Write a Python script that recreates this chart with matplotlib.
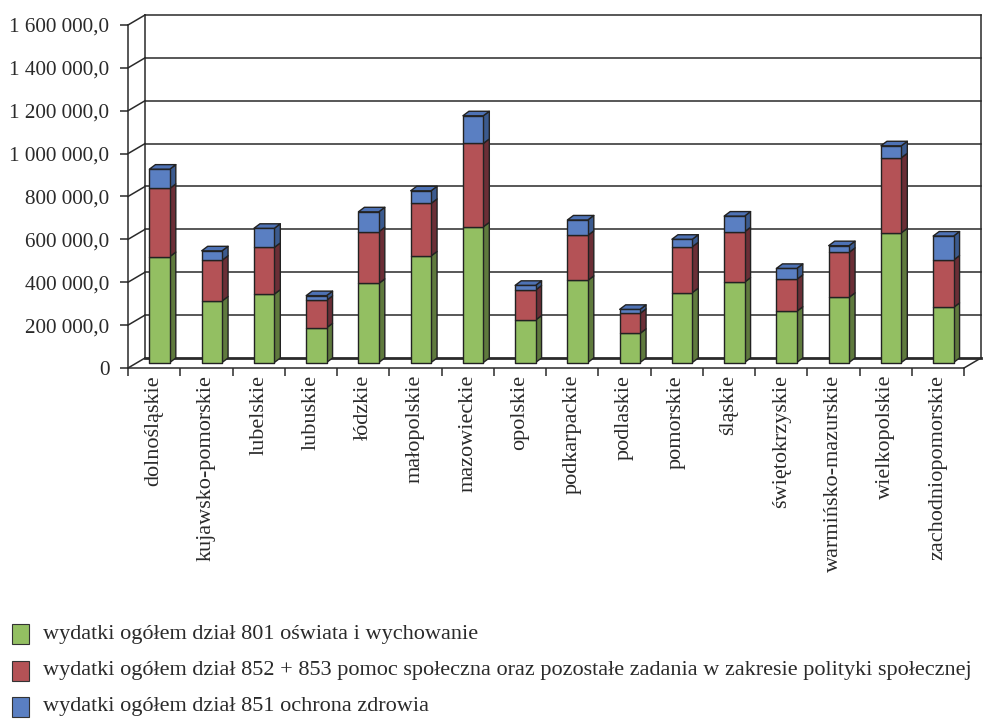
import numpy as np
import matplotlib.pyplot as plt
from matplotlib.patches import Polygon, Rectangle

plt.rcParams['font.family'] = ['Liberation Serif', 'DejaVu Serif']

regions = ["dolnośląskie", "kujawsko-pomorskie", "lubelskie", "lubuskie", "łódzkie",
           "małopolskie", "mazowieckie", "opolskie", "podkarpackie", "podlaskie",
           "pomorskie", "śląskie", "świętokrzyskie", "warmińsko-mazurskie",
           "wielkopolskie", "zachodniopomorskie"]

# thousands, per voivodeship
oswiata = [494, 287, 319, 162, 369, 497, 633, 198, 383, 136, 326, 375, 239, 304, 605, 257]
pomoc = [318, 190, 218, 128, 241, 245, 389, 140, 210, 93, 214, 235, 149, 210, 350, 221]
zdrowie = [90, 44, 89, 22, 93, 59, 129, 22, 72, 19, 35, 73, 51, 31, 56, 112]

series_labels = [
    "wydatki ogółem dział 801 oświata i wychowanie",
    "wydatki ogółem dział 852 + 853 pomoc społeczna oraz pozostałe zadania w zakresie polityki społecznej",
    "wydatki ogółem dział 851 ochrona zdrowia",
]
face_colors = ["#93BF62", "#B45256", "#5A7FC2"]
side_colors = ["#5F7A3D", "#6B2E36", "#3B5A8E"]
top_colors = ["#7FA852", "#9A4048", "#4E72B5"]

yticks = np.arange(0, 1_600_001, 200_000)
ytick_labels = ["0"] + [f"{v:,.1f}".replace(",", " ").replace(".", ",") for v in yticks[1:]]

W, H = 985, 719
fig = plt.figure(figsize=(W / 100, H / 100), dpi=100)
ax_box = [128 / W, 1 - 368 / H, (964 - 128) / W, (368 - 25) / H]
ax = fig.add_axes(ax_box)
n = len(regions)
ax.set_xlim(0, n)
ax.set_ylim(0, 1_600_000)

# data units per screen pixel
px_x = n / (ax_box[2] * W)
px_y = 1_600_000 / (ax_box[3] * H)

def shift(x, y, dx, dy):
    return x + dx * px_x, y + dy * px_y

line_kw = dict(color="#2a2a2a", lw=1.1, clip_on=False, zorder=1)

# walls: back grid, left wall diagonals, floor edges
wall_dx, wall_dy = 17, 10
for v in yticks:
    x0, y0 = shift(0, v, wall_dx, wall_dy)
    x1, _ = shift(n, v, wall_dx, wall_dy)
    ax.plot([x0, x1], [y0, y0], **(line_kw | dict(lw=2.0 if v == 0 else 1.1)))
    ax.plot([0, x0], [v, y0], **line_kw)
bx, by0 = shift(0, 0, wall_dx, wall_dy)
_, by1 = shift(0, 1_600_000, wall_dx, wall_dy)
ax.plot([bx, bx], [by0, by1], **line_kw)
ax.plot([bx + n, bx + n], [by0, by1], **line_kw)
ax.plot([n, bx + n], [0, by0], **line_kw)

# stacked 3d columns
bar_w = 0.39
bar_off = (5.5, 5.5)
depth = (6, 4.5)
ddx, ddy = depth[0] * px_x, depth[1] * px_y
stacks = [oswiata, pomoc, zdrowie]
for i in range(n):
    bottom = 0
    for j, vals in enumerate(stacks):
        top = bottom + vals[i] * 1000
        x0, y0 = shift(i + 0.5 - bar_w / 2, bottom, *bar_off)
        x1, y1 = shift(i + 0.5 + bar_w / 2, top, *bar_off)
        poly_kw = dict(edgecolor="#222222", lw=1.0, clip_on=False, zorder=3, joinstyle="round")
        ax.add_patch(Polygon([(x1, y0), (x1 + ddx, y0 + ddy), (x1 + ddx, y1 + ddy), (x1, y1)],
                             facecolor=side_colors[j], **poly_kw))
        ax.add_patch(Polygon([(x0, y0), (x1, y0), (x1, y1), (x0, y1)],
                             facecolor=face_colors[j], **poly_kw))
        if j == len(stacks) - 1:
            ax.add_patch(Polygon([(x0, y1), (x1, y1), (x1 + ddx, y1 + ddy), (x0 + ddx, y1 + ddy)],
                                 facecolor=top_colors[j], **poly_kw))
        bottom = top

for side in ["top", "right"]:
    ax.spines[side].set_visible(False)
for side in ["left", "bottom"]:
    ax.spines[side].set_linewidth(1.1)
    ax.spines[side].set_color("#2a2a2a")

ax.set_yticks(yticks)
ax.set_yticklabels(ytick_labels, fontsize=15.2, color="#2a2a2a")
ax.tick_params(axis="y", length=5.5, width=1.1, pad=8, color="#2a2a2a")
ax.set_xticks(np.arange(n) + 0.5)
ax.set_xticklabels(regions, rotation=90, fontsize=16, color="#2a2a2a")
ax.set_xticks(np.arange(n + 1), minor=True)
ax.tick_params(axis="x", which="major", length=0, pad=5)
ax.tick_params(axis="x", which="minor", length=6, width=1.1, color="#2a2a2a")
ax.set_facecolor("none")

# legend
for k, label in enumerate(series_labels):
    yc = 634 + k * 36.5
    fig.patches.append(Rectangle((12 / W, 1 - (yc + 10) / H), 17 / W, 20 / H,
                                 transform=fig.transFigure, facecolor=face_colors[k],
                                 edgecolor="#333333", lw=0.8))
    fig.text(43 / W, 1 - yc / H, label, fontsize=16, va="center", ha="left", color="#2a2a2a")

fig.savefig("out.png", dpi=100)
